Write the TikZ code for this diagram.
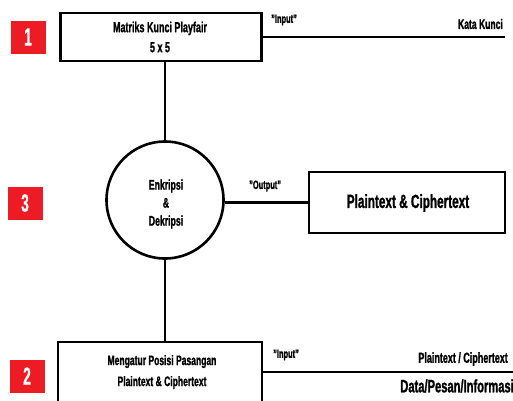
\documentclass[tikz,border=0pt]{standalone}
\usepackage{fontspec}
\setmainfont{Liberation Sans}[FakeStretch=0.62,BoldFeatures={FakeBold=1.2}]
\newfontfamily\numfont{Liberation Sans}[FakeStretch=0.55,BoldFeatures={FakeBold=0.6}]
\definecolor{numred}{HTML}{ED1C24}
\begin{document}
\begin{tikzpicture}[x=1pt,y=-1pt,
  flow/.style={line width=2.6pt},
  boxst/.style={draw,line width=2.6pt,inner sep=0pt},
  numbox/.style={fill=numred,text=white,inner sep=0pt,minimum width=35pt,minimum height=33pt,font=\numfont\bfseries\fontsize{25}{25}\selectfont},
  lbl/.style={inner sep=0pt,font=\bfseries\fontsize{12}{12}\selectfont},
  btxt/.style={inner sep=0pt,align=center,font=\bfseries\fontsize{14.5}{20}\selectfont}]
\useasboundingbox (0,0) rectangle (513,400);
% number tags
\node[numbox] (n1) at (28,37) {1};
\node[numbox] (n3) at (25,203) {3};
\node[numbox] (n2) at (27,376) {2};
% top box
\node[boxst,minimum width=201pt,minimum height=48pt] (b1) at (161,37) {};
\node[btxt] (t1) at (160,37) {Matriks Kunci Playfair\\5 x 5};
% circle
\node[draw,circle,line width=2.6pt,minimum size=117pt,inner sep=0pt] (c) at (165,200) {};
\node[btxt,font=\bfseries\fontsize{14}{18}\selectfont] (ct) at (166,204) {Enkripsi\\\&\\Dekripsi};
% output box
\node[boxst,minimum width=196pt,minimum height=61pt] (b3) at (407,202.5) {};
\node[inner sep=0pt,font=\bfseries\fontsize{19}{20}\selectfont] (t3) at (408,203) {Plaintext \& Ciphertext};
% bottom box
\node[boxst,minimum width=204pt,minimum height=80pt] (b2) at (160,382) {};
\node[btxt,font=\bfseries\fontsize{13.8}{21}\selectfont] (t2) at (162,372) {Mengatur Posisi Pasangan\\Plaintext \& Ciphertext};
% connectors
\coordinate (e1) at (505,37);
\coordinate (e2) at (513,372);
\draw[flow] (b1.east |- e1) -- (e1);
\draw[flow] (b1.south -| c.north) -- (c.north);
\draw[flow] (c.south) -- (c.south |- b2.north);
\draw[flow] (c.east |- b3.west) -- (b3.west);
\draw[flow] (b2.east |- e2) -- (e2);
% labels
\node[lbl,anchor=west] (li1) at (271,20) {"Input"};
\node[lbl,anchor=east,font=\bfseries\fontsize{13.8}{14}\selectfont] (lk) at (503,24) {Kata Kunci};
\node[lbl,anchor=west] (lo) at (249,186) {"Output"};
\node[lbl,anchor=west] (li2) at (273,355) {"Input"};
\node[lbl,anchor=east,font=\bfseries\fontsize{14.5}{15}\selectfont] (lp) at (508,359) {Plaintext / Ciphertext};
\node[lbl,anchor=east,font=\bfseries\fontsize{18}{18}\selectfont] (ld) at (514,386) {Data/Pesan/Informasi};
\end{tikzpicture}
\end{document}
